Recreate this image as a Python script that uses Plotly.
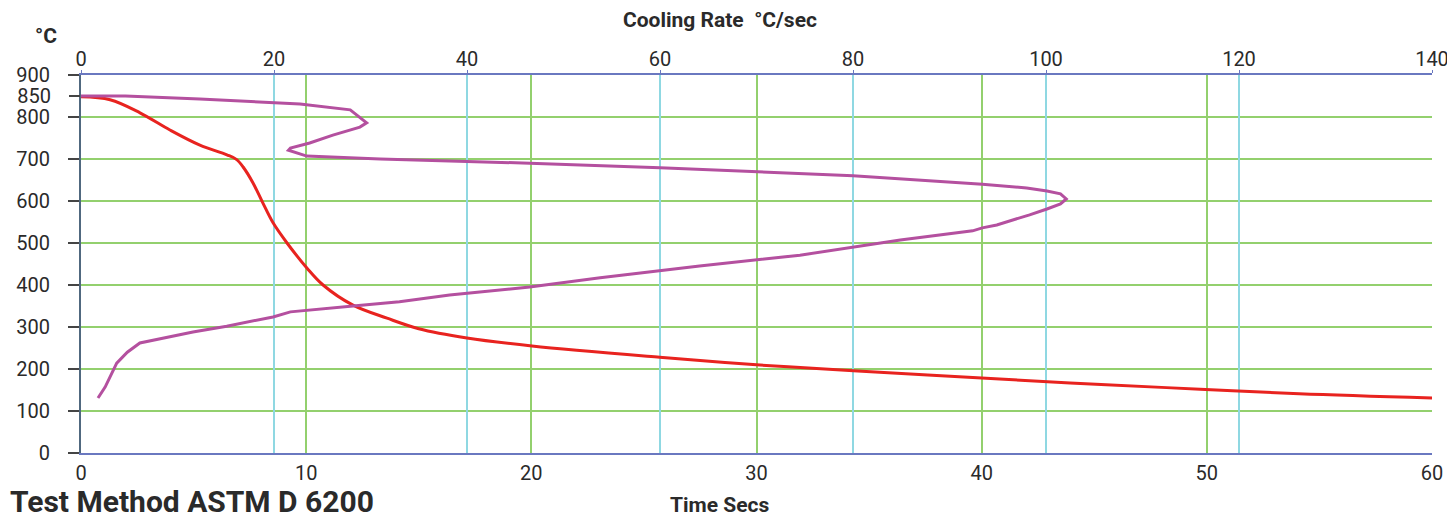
import plotly.graph_objects as go

# Red curve: temperature vs time (bottom axis)
time_s = [0, 1.29, 2.62, 3.95, 5.28, 6.48, 6.9, 7.2, 7.64, 8.08, 8.53, 9.15, 10.04, 10.75,
          12.08, 13.59, 15.0, 17.14, 20.03, 25.7, 30.0, 34.3, 40.8, 45.3, 49.7, 54.1, 60]
temp_time = [848, 841, 810, 769, 733, 710, 699, 681, 643, 595, 548, 500, 440, 400,
             352, 321, 296, 274, 255, 228, 210, 196, 176, 163, 152, 141, 131]

# Purple curve: temperature vs cooling rate (top axis)
rate = [0, 4.6, 12.3, 22.7, 27.9, 28.9, 29.6, 28.9, 26.1, 23.7, 21.7, 21.5, 23.4, 31.0,
        40.0, 46.5, 60.0, 70.0, 80.0, 93.4, 98.0, 100.1, 101.5, 102.1, 101.5, 100.1, 98.3,
        94.9, 93.4, 92.4, 84.9, 74.5, 64.1, 53.8, 46.5, 38.2, 33.0, 28.2, 23.4, 21.7, 19.9,
        15.1, 11.6, 7.2, 6.1, 4.8, 3.7, 2.5, 1.76]
temp_rate = [850, 850, 843, 831, 817, 800, 786, 776, 757, 738, 726, 721, 707, 700,
             695, 690, 679, 669, 660, 640, 631, 624, 617, 605, 593, 581, 567,
             543, 536, 529, 507, 471, 445, 417, 395, 376, 360, 350, 340, 336, 324,
             302, 288, 267, 262, 240, 214, 157, 131]

time_ticks = [0, 10, 20, 30, 40, 50, 60]
rate_ticks = [0, 20, 40, 60, 80, 100, 120, 140]
temp_ticks = [0, 100, 200, 300, 400, 500, 600, 700, 800, 900]
temp_extra_ticks = [850]

RED = "#e8231f"
PURPLE = "#b4509f"
GREEN = "#93d06e"
CYAN = "#8fd8e2"
BLUE = "#6a78c0"
SLATE = "#50687f"
TXT = "#2a2a2a"
FONT = "Roboto"

fig = go.Figure()
fig.add_trace(go.Scatter(x=time_s, y=temp_time, mode="lines", line=dict(color=RED, width=3),
                         xaxis="x", yaxis="y", showlegend=False, line_shape="spline"))
fig.add_trace(go.Scatter(x=rate, y=temp_rate, mode="lines", line=dict(color=PURPLE, width=3),
                         xaxis="x2", yaxis="y", showlegend=False))
# invisible trace to activate the extra y-axis (850 tick)
fig.add_trace(go.Scatter(x=[None], y=[None], xaxis="x", yaxis="y2", showlegend=False,
                         hoverinfo="skip"))

tickfont = dict(family=FONT, size=20, color=TXT)

fig.update_layout(
    width=1447, height=513,
    margin=dict(l=73, r=23, t=67, b=68),
    paper_bgcolor="white", plot_bgcolor="white",
    xaxis=dict(range=[0, 60], tickvals=time_ticks, showgrid=True, gridcolor=GREEN, gridwidth=1.5,
               zeroline=False, showline=True, linecolor=BLUE, linewidth=2, ticks="",
               tickfont=tickfont, ticklabelstandoff=1, automargin=False),
    xaxis2=dict(range=[0, 140], tickvals=rate_ticks, overlaying="x", side="top", showgrid=True,
                gridcolor=CYAN, gridwidth=1.5, zeroline=False, showline=True, linecolor=BLUE,
                linewidth=2, ticks="outside", ticklen=3, tickcolor=BLUE, tickfont=tickfont,
                ticklabelstandoff=-4, automargin=False),
    yaxis=dict(range=[0, 900], tickvals=temp_ticks, showgrid=True, gridcolor=GREEN, gridwidth=1.5,
               zeroline=False, showline=True, linecolor=SLATE, linewidth=2, ticks="outside",
               ticklen=11, tickcolor="#444", tickwidth=2, tickfont=tickfont,
               ticklabelstandoff=14, automargin=False),
    yaxis2=dict(range=[0, 900], tickvals=temp_extra_ticks, overlaying="y", side="left",
                showgrid=False, zeroline=False, showline=False, ticks="outside", ticklen=11,
                tickcolor="#444", tickwidth=2, tickfont=tickfont, ticklabelstandoff=14,
                automargin=False),
    annotations=[
        dict(text="Cooling Rate  °C/sec", xref="paper", yref="paper", x=0.473, y=1.1455,
             xanchor="center", yanchor="middle", showarrow=False,
             font=dict(family=FONT, size=21, color=TXT, weight="bold")),
        dict(text="Time Secs", xref="paper", yref="paper", x=0.473, y=-0.1376,
             xanchor="center", yanchor="middle", showarrow=False,
             font=dict(family=FONT, size=21, color=TXT, weight="bold")),
        dict(text="°C", xref="paper", yref="paper", x=-0.0259, y=1.103,
             xanchor="center", yanchor="middle", showarrow=False,
             font=dict(family=FONT, size=21, color=TXT, weight="bold")),
        dict(text="Test Method ASTM D 6200", xref="paper", yref="paper", x=-0.0533, y=-0.128,
             xanchor="left", yanchor="middle", showarrow=False, borderpad=0,
             font=dict(family=FONT, size=30, color=TXT, weight="bold")),
    ],
)

fig.write_html("out.html")
